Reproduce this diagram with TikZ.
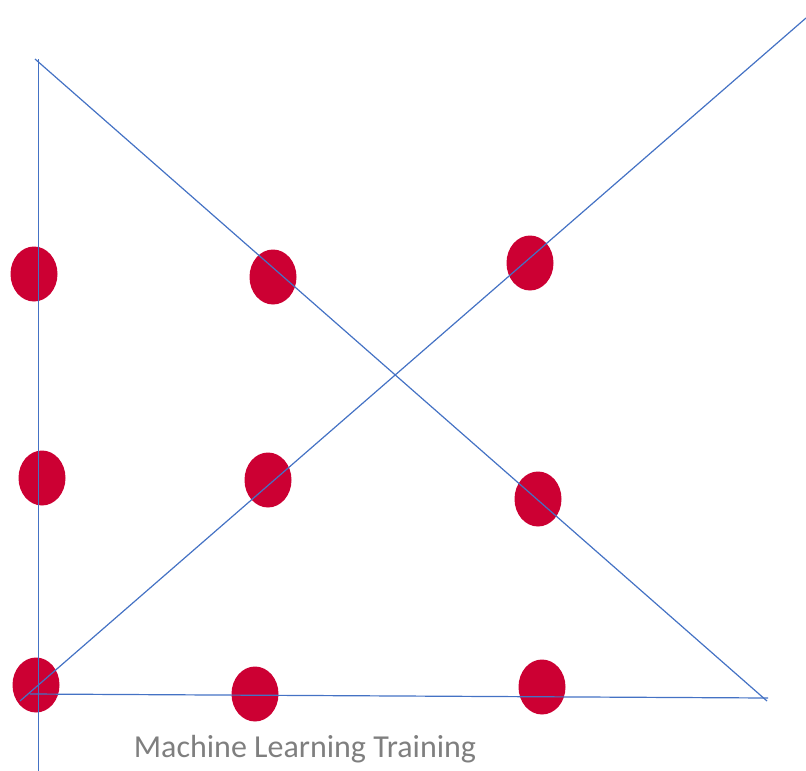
\documentclass[tikz,border=0pt]{standalone}
\usepackage{fontspec}
\setmainfont{Carlito}
\usetikzlibrary{shapes.geometric}
\definecolor{dotred}{HTML}{CC0033}
\definecolor{lineblue}{HTML}{4472C4}
\definecolor{txtgray}{HTML}{7F7F7F}
\begin{document}
\begin{tikzpicture}[x=1pt,y=-1pt,
  dot/.style={ellipse,fill=dotred,draw=none,minimum width=47pt,minimum height=55pt,inner sep=0pt},
  ln/.style={draw=lineblue,line width=1.2pt}]
\useasboundingbox (0,0) rectangle (806,771);
\node[dot] (d1) at (34,274) {};
\node[dot] (d2) at (273,277) {};
\node[dot] (d3) at (530,263) {};
\node[dot] (d4) at (42,478) {};
\node[dot] (d5) at (268,480) {};
\node[dot] (d6) at (538,499) {};
\node[dot] (d7) at (36,685) {};
\node[dot] (d8) at (255,694) {};
\node[dot] (d9) at (542,687) {};
\coordinate (vt) at (38.7,59);
\coordinate (vb) at (38.7,771);
\coordinate (dt) at (35,59);
\coordinate (db) at (767,701);
\coordinate (ub) at (20,701);
\coordinate (ut) at (806,18);
\coordinate (hl) at (30,694);
\coordinate (hr) at (768,698);
\draw[ln] (vt) -- (vb);
\draw[ln] (dt) -- (db);
\draw[ln] (ub) -- (ut);
\draw[ln] (hl) -- (hr);
\node[text=txtgray,font=\fontsize{32}{36}\selectfont,anchor=base,inner sep=0pt] (cap) at (305,757) {Machine Learning Training};
\end{tikzpicture}
\end{document}
